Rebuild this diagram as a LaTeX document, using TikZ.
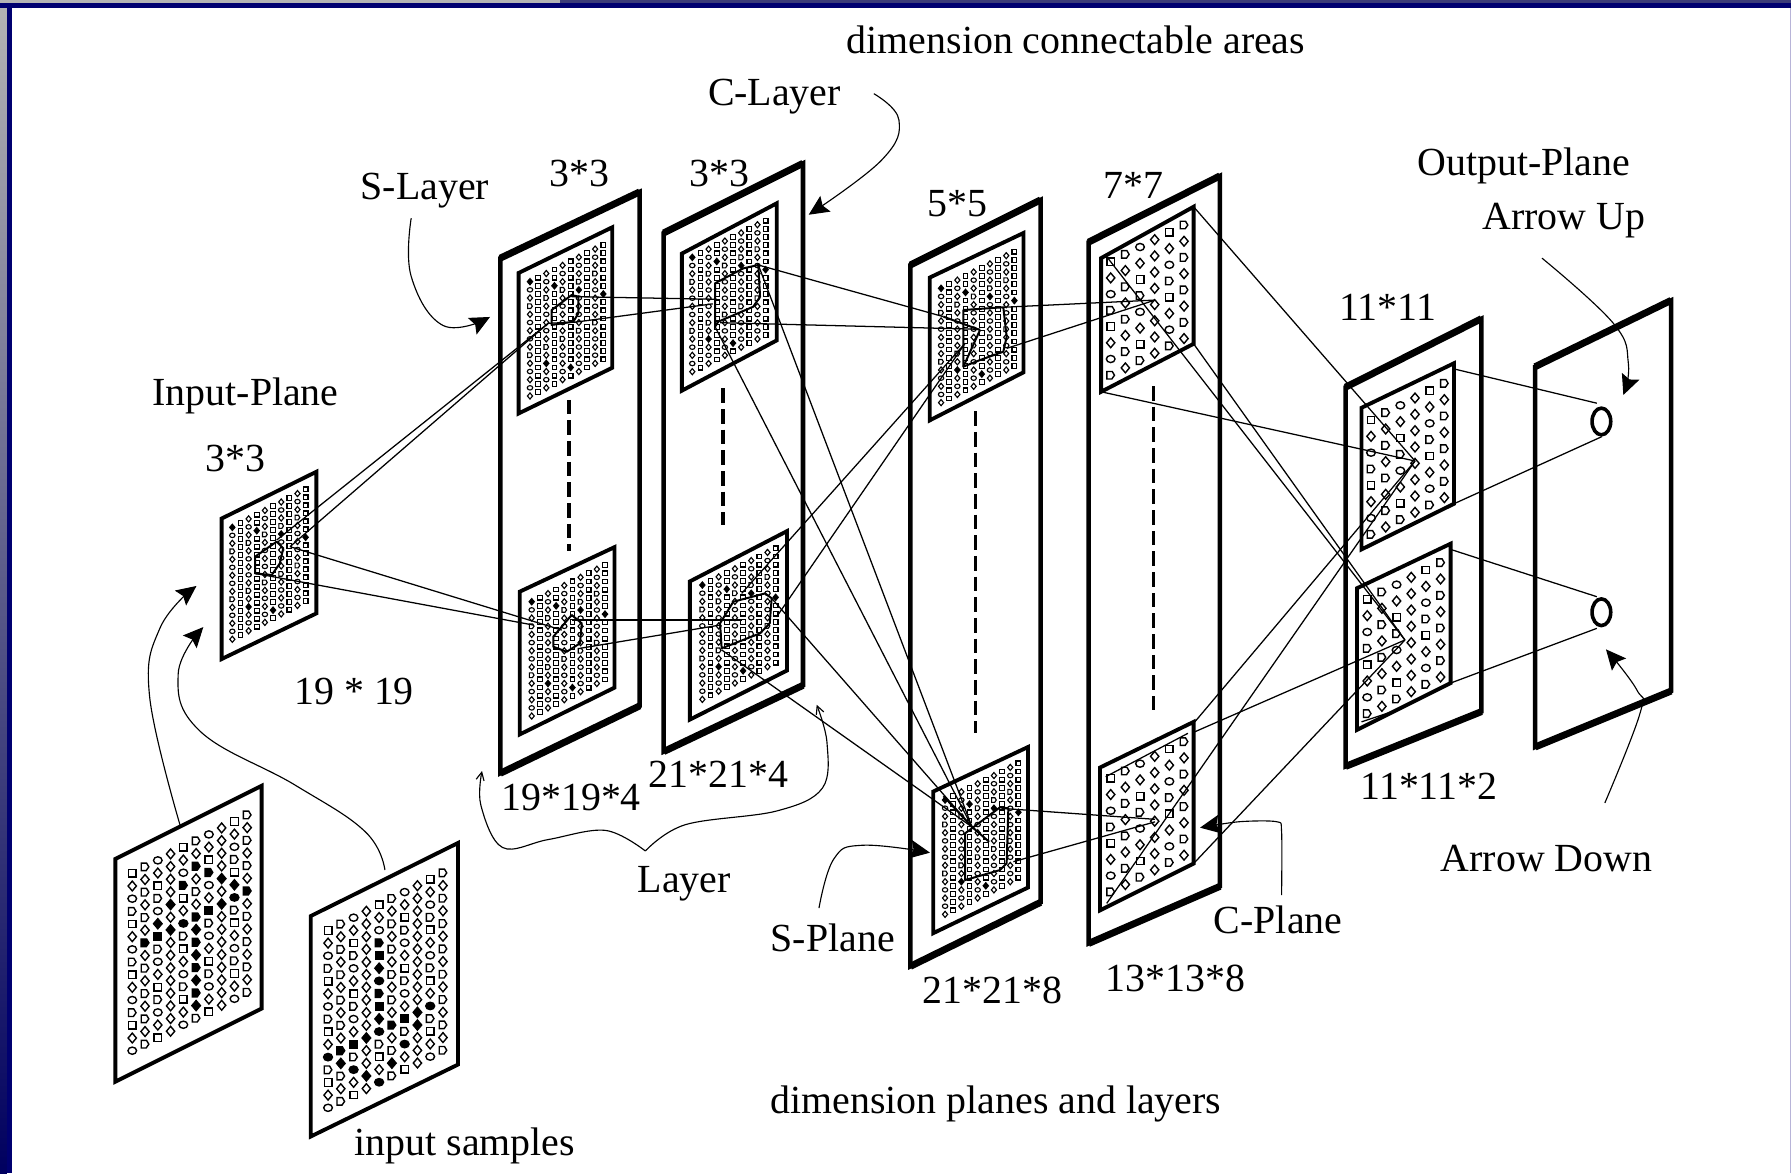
\documentclass[tikz,border=0pt]{standalone}
\usepackage{fontspec}
\setmainfont{Liberation Serif}
\usetikzlibrary{arrows.meta,shapes.geometric}
\definecolor{navyb}{HTML}{000070}
\definecolor{topg}{HTML}{B4B4B4}
\definecolor{topd}{HTML}{3C3C78}
\definecolor{lav}{HTML}{B8B4D8}
\tikzset{
  lab/.style={font=\fontsize{29.9}{36}\selectfont,inner sep=0pt,text height=0.68em,text depth=0.2em,yshift=-7.6pt},
  frameside/.style={line width=3.4pt,miter limit=10,line join=miter},
  framethick/.style={line width=5.2pt,line cap=butt},
  innerp/.style={line width=2.9pt,line join=miter},
  wire/.style={line width=0.95pt},
  rfline/.style={line width=1.5pt,line join=round},
  vdash/.style={line width=2.7pt,dash pattern=on 11pt off 4.5pt},
  callout/.style={line width=0.85pt,-{Stealth[length=15pt,width=14pt,inset=2.5pt]}},
  thincall/.style={line width=0.85pt,-{Straight Barb[length=6pt,width=6pt]}},
  dotst/.style={line width=0.85pt},
  dotbig/.style={line width=1.05pt},
}
\makeatletter
\newcommand\mkshape[6]{% type x y size style opts
  \ifcase#1\relax
    \draw[#5,#6] ({#2-#4},{#3-#4}) rectangle ({#2+#4},{#3+#4});
  \or
    \draw[#5,#6] ({#2},{#3-1.3*#4})--({#2+1.1*#4},{#3})--({#2},{#3+1.3*#4})--({#2-1.1*#4},{#3})--cycle;
  \or
    \draw[#5,#6] ({#2},{#3}) ellipse[x radius={1.15*#4},y radius={0.95*#4}];
  \or
    \draw[#5,#6] ({#2-#4},{#3-#4})--({#2+0.4*#4},{#3-#4})--({#2+#4},{#3})--({#2+0.3*#4},{#3+#4})--({#2-#4},{#3+#4})--cycle;
  \fi}
% x0 y0 cx cy rowstep lastcol lastrow mode blacklist
\newcommand\dotgrid[9]{%
  \foreach \c in {0,...,#6}{\foreach \r in {0,...,#7}{%
    \pgfmathsetmacro\px{#1+\c*(#3)}%
    \pgfmathsetmacro\py{#2+\c*(#4)+\r*(#5)}%
    \ifnum#8=0\relax
      \pgfmathtruncatemacro\kk{mod(\c,2)==1?0:(mod(\c+\r,2)==0?1:(mod(\r,3)==0?3:2))}%
      \pgfmathtruncatemacro\bb{mod(\c*5+\r*7,29)==0?1:0}%
      \ifnum\bb=1\relax
        \mkshape{1}{\px}{\py}{2.1}{dotst}{fill=black}%
      \else
        \mkshape{\kk}{\px}{\py}{2.05}{dotst}{}%
      \fi
    \else
      \pgfmathtruncatemacro\kk{mod(\c*3+\r*5+\c*\r,4)}%
      \edef\cellkey{,\c-\r,}%
      \expandafter\in@\expandafter{\cellkey}{#9}%
      \ifin@
        \mkshape{\kk}{\px}{\py}{3.4}{dotbig}{fill=black}%
      \else
        \mkshape{\kk}{\px}{\py}{3.3}{dotbig}{}%
      \fi
    \fi
  }}}
\makeatother
\newcommand\frameplane[8]{%
  \draw[frameside] (#1,#2)--(#3,#4)--(#5,#6)--(#7,#8)--cycle;
  \draw[framethick] (#1,#2)--(#3,#4) (#7,#8)--(#5,#6);}
\newcommand\innerplane[8]{%
  \draw[innerp] (#1,#2)--(#3,#4)--(#5,#6)--(#7,#8)--cycle;}
\begin{document}
\begin{tikzpicture}[x=0.8566pt,y=-0.8566pt]
\useasboundingbox (0,0) rectangle (1568,1027);
% window background
\fill[white] (0,0) rectangle (1568,1027);
\shade[top color=topg,bottom color=navyb!85!black] (0,0) rectangle (6,1027);
\fill[topg] (0,0) rectangle (490,2.5);
\fill[topd] (490,0) rectangle (1568,2.5);
\fill[navyb] (0,2.5) rectangle (1568,7);
\fill[navyb] (6,2.5) rectangle (10.5,1027);
\fill[lav] (1567,7) rectangle (1568,1027);

% input samples
\innerplane{101}{752}{229}{688}{229}{883}{101}{947}
\innerplane{272}{802}{401}{738}{401}{932}{272}{995}
\dotgrid{115.8}{764.6}{11.18}{-5.68}{11.09}{9}{14}{2}{,1-6,2-5,2-6,3-4,3-6,4-3,4-6,5-2,5-6,5-7,5-8,5-9,5-10,5-11,5-12,5-13,6-3,6-6,7-4,7-6,8-5,8-6,9-6,}
\dotgrid{287.2}{814.6}{11.18}{-5.6}{11.09}{9}{14}{2}{,4-3,4-4,4-5,4-6,4-7,4-8,4-9,4-10,4-14,3-10,3-13,2-10,2-12,1-10,1-11,0-10,5-10,5-13,6-10,6-12,7-10,7-11,8-10,}

% input plane
\innerplane{194}{454}{277}{413}{277}{537}{194}{577}
\dotgrid{203.4}{461.7}{7.13}{-3.7}{7.0}{9}{14}{0}{,}

% S layer
\frameplane{438}{226}{560}{168}{560}{618}{438}{677}
\innerplane{454}{239}{536}{199}{536}{322}{454}{362}
\dotgrid{464}{246.6}{7.13}{-3.57}{7.15}{9}{14}{0}{,}
\innerplane{455}{518}{538}{479}{538}{602}{455}{643}
\dotgrid{465.5}{526.8}{7.13}{-3.56}{7.15}{9}{14}{0}{,}

% C layer
\frameplane{581}{204}{703}{143}{703}{600}{581}{658}
\innerplane{597}{222}{680}{178}{680}{298}{597}{342}
\dotgrid{606.1}{225.3}{7.13}{-3.57}{7.15}{9}{14}{0}{,}
\innerplane{604}{509}{689}{465}{689}{587}{604}{630}
\dotgrid{614.9}{512.2}{7.13}{-3.57}{7.15}{9}{14}{0}{,}

% third layer
\frameplane{797}{232}{911}{175}{911}{790}{797}{846}
\innerplane{814}{243}{896}{204}{896}{326}{814}{368}
\dotgrid{823.9}{252.4}{7.13}{-3.57}{7.15}{9}{14}{0}{,}
\innerplane{817}{693}{900}{654}{900}{777}{817}{817}
\dotgrid{827.4}{700.4}{7.13}{-3.57}{7.15}{9}{14}{0}{,}

% fourth layer
\frameplane{953}{212}{1068}{154}{1068}{776}{953}{826}
\innerplane{964}{226}{1045}{181}{1045}{301}{964}{343}
\dotgrid{972.4}{229.1}{12.84}{-6.42}{14.2}{5}{7}{1}{,}
\innerplane{963}{672}{1045}{632}{1045}{756}{963}{797}
\dotgrid{972.4}{681.4}{12.84}{-6.42}{14.2}{5}{7}{1}{,}

% fifth layer
\frameplane{1178}{339}{1297}{279}{1297}{623}{1178}{671}
\innerplane{1192}{357}{1273}{318}{1273}{441}{1192}{481}
\dotgrid{1200.3}{367.7}{12.84}{-6.42}{14.3}{5}{7}{1}{,}
\innerplane{1188}{515}{1270}{476}{1270}{598}{1188}{639}
\dotgrid{1197}{524.7}{12.84}{-6.42}{14.3}{5}{7}{1}{,}

% output plane
\frameplane{1344}{321}{1463}{263}{1463}{605}{1344}{654}
\node[ellipse,draw,line width=2.7pt,minimum width=14pt,minimum height=20pt,inner sep=0pt] (o1) at (1402,369) {};
\node[ellipse,draw,line width=2.7pt,minimum width=14pt,minimum height=20pt,inner sep=0pt] (o2) at (1402,536) {};

% connection points
\coordinate (in1) at (242.2,472.8);
\coordinate (in2) at (253.9,478.6);
\coordinate (in3) at (223.3,502);
\coordinate (st) at (480,283);
\coordinate (sta) at (500.5,259.7);
\coordinate (stb) at (504,282);
\coordinate (sb1) at (491.8,551.6);
\coordinate (sb2) at (466.9,547.2);
\coordinate (sb3) at (500.5,542.8);
\coordinate (sb4) at (507.8,567.6);
\coordinate (ct1) at (627.5,262);
\coordinate (ct2) at (624,266);
\coordinate (ct3) at (663.9,232);
\coordinate (ct4) at (630.4,282.5);
\coordinate (ct5) at (626,286);
\coordinate (cb1) at (649.3,542.8);
\coordinate (cb2) at (630.4,547.2);
\coordinate (cb3) at (631.8,569);
\coordinate (cb4) at (675.6,523.8);
\coordinate (cb5) at (649.3,519.5);
\coordinate (cb6) at (680,539.9);
\coordinate (pt1) at (825.9,277.2);
\coordinate (pt2) at (858,288.3);
\coordinate (pt3) at (844.9,300.6);
\coordinate (pt4) at (878.4,269);
\coordinate (pt5) at (881.3,305);
\coordinate (pb0) at (851,724);
\coordinate (pb1) at (877,707.7);
\coordinate (pb2) at (887.2,754.4);
\coordinate (q1) at (1011.2,262.7);
\coordinate (q2) at (1011.2,717.3);
\coordinate (q3) at (1011.2,719.5);
\coordinate (qtl) at (968.9,224.7);
\coordinate (qtr) at (1045,181);
\coordinate (qbr) at (1045,301);
\coordinate (qbl) at (964,343);
\coordinate (qbla) at (968.9,790.9);
\coordinate (qbtr) at (1046.2,631.8);
\coordinate (qbtb) at (1046.2,640.6);
\coordinate (qbbr) at (1045,756);
\coordinate (r1) at (1238.8,403.6);
\coordinate (r2) at (1230,560.3);
\coordinate (rtt) at (1273,323);
\coordinate (rtb) at (1273,441);
\coordinate (rbt) at (1270,481);
\coordinate (rbb) at (1270,598);
\coordinate (o1a) at (1398,353);
\coordinate (o1b) at (1402.3,382.3);
\coordinate (o2a) at (1398,522.4);
\coordinate (o2b) at (1398,550.1);

% receptive-field outlines
\draw[rfline] (223.3,487.4)--(242.2,474.2)--(248,480)--(245,493.2)--(237.9,503.4)--(223.3,502)--cycle;
\draw[rfline] (483,271.4)--(500.5,258.3)--(506.3,259.7)--(506.3,274.3)--(502,281.6)--(483,284.5)--cycle;
\draw[rfline] (484.4,557.4)--(500.5,538.4)--(509.3,545.7)--(507.8,563.2)--(496.1,570.6)--(484.4,566.2)--cycle;
\draw[rfline] (626,248)--(650.8,234.9)--(663.9,232)--(665.4,259.7)--(659.5,268.5)--(628.9,281.6)--(626,286)--cycle;
\draw[rfline] (630.4,545.7)--(642,526.8)--(669.8,519.5)--(675.6,523.8)--(673.9,545.7)--(665.4,554.5)--(631.8,567.6)--cycle;
\draw[rfline] (843.4,271.4)--(878.4,269)--(881.3,294.8)--(878.4,307.9)--(858,315.2)--(843.4,321)--cycle;
\draw[rfline] (843.4,321)--(858,288.9);
\draw[rfline] (825.9,277.2)--(858,288.9);
\draw[rfline] (844.9,729.6)--(875.5,706.8)--(882.8,707.7)--(881.3,755.8)--(875.5,761.7)--(844.9,770.5)--cycle;
\draw[rfline] (826,697)--(851,724)--(866,737);

% connectors
\draw[wire] (in1)--(st);
\draw[wire] (in2)--(st);
\draw[wire] (in2)--(sb1);
\draw[wire] (in3)--(sb2);
\draw[wire] (sta)--(ct1);
\draw[wire] (st)--(stb)--(ct2);
\draw[wire] (sb3)--(cb1);
\draw[wire] (sb4)--(cb2);
\draw[wire] (ct3)--(pt1);
\draw[wire] (ct4)--(pt2);
\draw[wire] (ct5)--(pb0);
\draw[wire] (ct3)--(pb0);
\draw[wire] (cb3)--(pb0);
\draw[wire] (cb4)--(pb0);
\draw[wire] (cb5)--(pt3);
\draw[wire] (cb6)--(pt3);
\draw[wire] (pt4)--(q1);
\draw[wire] (pt5)--(q1);
\draw[wire] (pb1)--(q2);
\draw[wire] (pb2)--(q3);
\draw[wire] (qtl)--(r2);
\draw[wire] (qbr)--(r2);
\draw[wire] (qtr)--(r1);
\draw[wire] (qbl)--(r1);
\draw[wire] (qbla)--(r1);
\draw[wire] (qbtr)--(r1);
\draw[wire] (qbtb)--(r2);
\draw[wire] (qbbr)--(r2);
\draw[wire] (968,680)--(1040,642);
\draw[wire] (1192,632)--(1228,620);
\draw[wire] (rtt)--(o1a);
\draw[wire] (rtb)--(o1b);
\draw[wire] (rbt)--(o2a);
\draw[wire] (rbb)--(o2b);

% dashed columns
\coordinate (d1a) at (498,350); \coordinate (d1b) at (498,482);
\coordinate (d2a) at (633,340); \coordinate (d2b) at (633,460);
\coordinate (d3a) at (854,360); \coordinate (d3b) at (854,642);
\coordinate (d4a) at (1010,338); \coordinate (d4b) at (1010,622);
\draw[vdash] (d1a)--(d1b);
\draw[vdash] (d2a)--(d2b);
\draw[vdash] (d3a)--(d3b);
\draw[vdash] (d4a)--(d4b);

% labels
\node[lab] (t1) at (942,35) {dimension connectable areas};
\node[lab] (t2) at (678,81) {C-Layer};
\node[lab] (t3) at (372,163) {S-Layer};
\node[lab] (t4) at (507,152) {3*3};
\node[lab] (t5) at (630,152) {3*3};
\node[lab] (t6) at (838,178) {5*5};
\node[lab] (t7) at (992,162) {7*7};
\node[lab] (t8) at (1334,142) {Output-Plane};
\node[lab] (t9) at (1369,189) {Arrow Up};
\node[lab] (t10) at (1215,269) {11*11};
\node[lab] (t11) at (215,343) {Input-Plane};
\node[lab] (t12) at (206,401) {3*3};
\node[lab] (t13) at (310,605) {19 * 19};
\node[lab] (t14) at (500,698) {19*19*4};
\node[lab] (t15) at (629,678) {21*21*4};
\node[lab] (t16) at (1251,688) {11*11*2};
\node[lab] (t17) at (599,770) {Layer};
\node[lab] (t18) at (1354,751) {Arrow Down};
\node[lab] (t19) at (1119,806) {C-Plane};
\node[lab] (t20) at (729,821) {S-Plane};
\node[lab] (t21) at (869,867) {21*21*8};
\node[lab] (t22) at (1029,856) {13*13*8};
\node[lab] (t23) at (872,963) {dimension planes and layers};
\node[lab] (t24) at (407,1000) {input samples};

% callout curves
\coordinate (a1s) at (360,191); \coordinate (a1m) at (360,242); \coordinate (a1n) at (388,285); \coordinate (a1e) at (429,277.5);
\draw[callout] plot[smooth,tension=0.7] coordinates {(a1s) (a1m) (a1n) (a1e)};
\coordinate (a2s) at (765,82); \coordinate (a2m) at (787,105); \coordinate (a2n) at (772,140); \coordinate (a2e) at (708,188);
\draw[callout] plot[smooth,tension=0.7] coordinates {(a2s) (a2m) (a2n) (a2e)};
\coordinate (a3s) at (1350,226); \coordinate (a3m) at (1412.4,283); \coordinate (a3n) at (1425.6,318); \coordinate (a3e) at (1421.2,345.8);
\draw[callout] plot[smooth,tension=0.7] coordinates {(a3s) (a3m) (a3n) (a3e)};
\coordinate (a4s) at (1405,703); \coordinate (a4m) at (1435.8,624.5); \coordinate (a4n) at (1433,604); \coordinate (a4e) at (1406,568.5);
\draw[callout] plot[smooth,tension=0.7] coordinates {(a4s) (a4m) (a4n) (a4e)};
\coordinate (a5s) at (157.6,722.3); \coordinate (a5m) at (131,610); \coordinate (a5n) at (140,550); \coordinate (a5e) at (172,513);
\draw[callout] plot[smooth,tension=0.7] coordinates {(a5s) (a5m) (a5n) (a5e)};
\coordinate (a6s) at (337,761.7); \coordinate (a6m) at (319.6,728); \coordinate (a6n) at (258.3,687.3); \coordinate (a6o) at (175,640); \coordinate (a6p) at (156,590); \coordinate (a6e) at (178,549);
\draw[callout] plot[smooth,tension=0.7] coordinates {(a6s) (a6m) (a6n) (a6o) (a6p) (a6e)};
\coordinate (a7s) at (1122,783.6); \coordinate (a7m) at (1122,728); \coordinate (a7n) at (1117.7,719.4); \coordinate (a7o) at (1085,719.4); \coordinate (a7e) at (1050.6,724.6);
\draw[callout] plot[smooth,tension=0.5] coordinates {(a7s) (a7m) (a7n) (a7o) (a7e)};
\coordinate (a8s) at (717,795); \coordinate (a8m) at (730,752); \coordinate (a8n) at (755,740); \coordinate (a8e) at (814.2,746.5);
\draw[callout] plot[smooth,tension=0.7] coordinates {(a8s) (a8m) (a8n) (a8e)};
\coordinate (b0) at (565,745); \coordinate (b1) at (530,727); \coordinate (b2) at (480,735); \coordinate (b3) at (440,742); \coordinate (b4) at (421,705); \coordinate (b5) at (422,675);
\draw[thincall] plot[smooth,tension=0.6] coordinates {(b0) (b1) (b2) (b3) (b4) (b5)};
\coordinate (c1) at (600,722); \coordinate (c2) at (680,710); \coordinate (c3) at (720,690); \coordinate (c4) at (724,650); \coordinate (c5) at (715,617);
\draw[thincall] plot[smooth,tension=0.6] coordinates {(b0) (c1) (c2) (c3) (c4) (c5)};
\end{tikzpicture}
\end{document}
